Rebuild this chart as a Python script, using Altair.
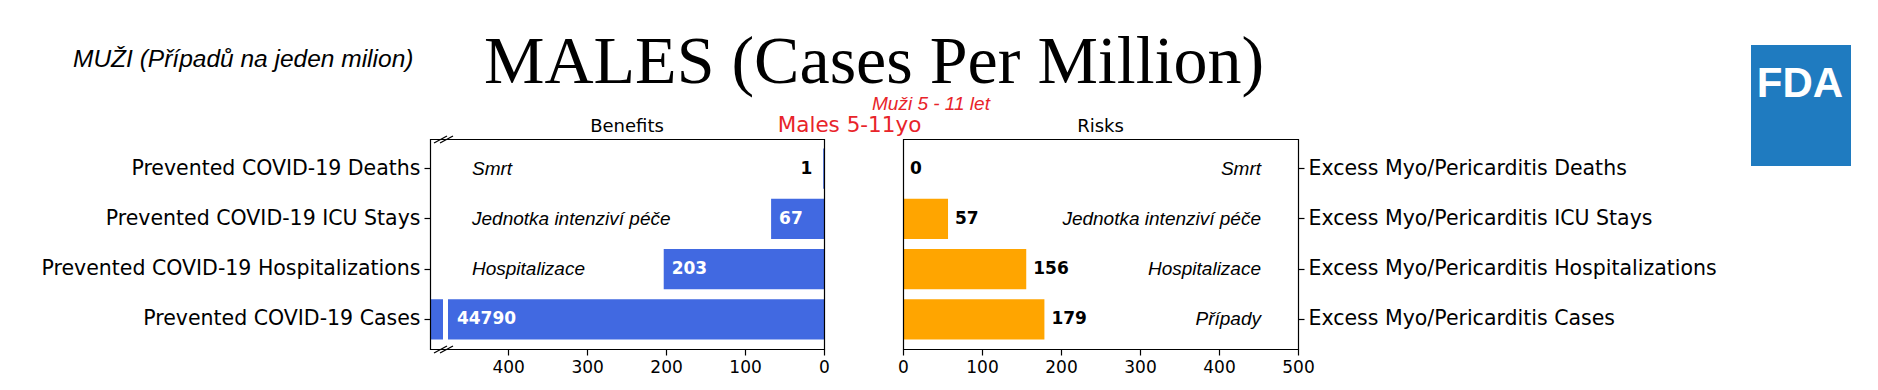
import altair as alt
import pandas as pd

# ---------------- data ----------------
rows = ["Deaths", "ICU Stays", "Hospitalizations", "Cases"]
benefits = [1, 67, 203, 44790]
risks = [0, 57, 156, 179]
czech_benefits = ["Smrt", "Jednotka intenziví péče", "Hospitalizace", ""]
czech_risks = ["Smrt", "Jednotka intenziví péče", "Hospitalizace", "Případy"]
benefit_prefix = "Prevented COVID-19 "
risk_prefix = "Excess Myo/Pericarditis "
benefit_ticks = [0, 100, 200, 300, 400]
risk_ticks = [0, 100, 200, 300, 400, 500]

title_text = "MALES (Cases Per Million)"
czech_title = "MUŽI (Případů na jeden milion)"
group_en = "Males 5-11yo"
group_cz = "Muži 5 - 11 let"
panel_left = "Benefits"
panel_right = "Risks"
logo_text = "FDA"

df = pd.DataFrame({
    "row": rows, "benefit": benefits, "risk": risks,
    "cz_b": czech_benefits, "cz_r": czech_risks,
})
one = pd.DataFrame({"a": [0]})

# ---------------- layout helpers (page px -> view px) ----------------
W, H = 1862, 341
def px(x):
    return x - 8
def py(y):
    return y - 8

BLUE = "#4169E1"
ORANGE = "#FFA500"
RED = "#e8242a"

def yscale():
    return alt.Scale(domain=rows, range=[py(139), py(349)], paddingInner=0.2, paddingOuter=0.19)
def lscale():
    return alt.Scale(domain=[0, 499], range=[px(824), px(430)], clamp=True, nice=False, zero=True)
def rscale():
    return alt.Scale(domain=[0, 500], range=[px(903), px(1298)], nice=False, zero=True)

base = alt.Chart(df)
deco = alt.Chart(one)

# ---------------- left (benefits) ----------------
lb = base.mark_bar(color=BLUE).encode(
    x=alt.X("benefit:Q", scale=lscale(),
            axis=alt.Axis(orient="bottom", values=benefit_ticks, title=None, format="d",
                          labelFlush=False)),
    y=alt.Y("row:N", sort=rows, scale=yscale(),
            axis=alt.Axis(orient="left", offset=-px(430), title=None, labelLimit=600,
                          labelExpr=f"'{benefit_prefix}' + datum.value")),
)
lgap = deco.mark_rule(color="white", strokeWidth=5).encode(
    x=alt.value(px(445.5)), y=alt.value(py(297)), y2=alt.value(py(342)))
lv = base.transform_calculate(
    pos="datum.benefit < 20 ? 40 : min(datum.benefit, 475)"
).mark_text(align="left", baseline="middle", dx=8, font="DejaVu Sans",
            fontWeight="bold", fontSize=17).encode(
    x=alt.X("pos:Q", scale=lscale(), axis=None),
    y=alt.Y("row:N", sort=rows, scale=yscale(), axis=None),
    text=alt.Text("benefit:Q", format="d"),
    color=alt.condition("datum.benefit < 20", alt.value("black"), alt.value("white")),
)
lc = base.mark_text(align="left", baseline="middle", font="Liberation Sans",
                    fontStyle="italic", fontSize=19, color="black").encode(
    x=alt.value(px(472)),
    y=alt.Y("row:N", sort=rows, scale=yscale(), axis=None),
    text="cz_b:N",
)

# ---------------- right (risks) ----------------
rb = base.mark_bar(color=ORANGE).encode(
    x=alt.X("risk:Q", scale=rscale(),
            axis=alt.Axis(orient="bottom", values=risk_ticks, title=None, format="d",
                          labelFlush=False)),
    y=alt.Y("row:N", sort=rows, scale=yscale(),
            axis=alt.Axis(orient="right", offset=-(W - px(1298)), title=None, labelLimit=600,
                          labelExpr=f"'{risk_prefix}' + datum.value")),
)
rv = base.mark_text(align="left", baseline="middle", dx=7, font="DejaVu Sans",
                    fontWeight="bold", fontSize=17, color="black").encode(
    x=alt.X("risk:Q", scale=rscale(), axis=None),
    y=alt.Y("row:N", sort=rows, scale=yscale(), axis=None),
    text=alt.Text("risk:Q", format="d"),
)
rc = base.mark_text(align="right", baseline="middle", font="Liberation Sans",
                    fontStyle="italic", fontSize=19, color="black").encode(
    x=alt.value(px(1261)),
    y=alt.Y("row:N", sort=rows, scale=yscale(), axis=None),
    text="cz_r:N",
)

# ---------------- frames & break marks ----------------
def frame(x0, x1):
    return deco.mark_rect(fillOpacity=0, stroke="black", strokeWidth=1.2).encode(
        x=alt.value(px(x0) + 0.5), x2=alt.value(px(x1) + 0.5),
        y=alt.value(py(139) + 0.5), y2=alt.value(py(349) + 0.5))

def slash(x0, y0, x1, y1):
    return deco.mark_rule(color="black", strokeWidth=1.3).encode(
        x=alt.value(px(x0)), y=alt.value(py(y0)), x2=alt.value(px(x1)), y2=alt.value(py(y1)))

frames = [
    frame(430, 824), frame(903, 1298),
    slash(434, 143, 447, 136), slash(440, 143, 453, 136),
    slash(434, 353, 447, 346), slash(440, 353, 453, 346),
]

# ---------------- header texts & logo ----------------
def txt(s, x, y, size, font, align="left", color="black", style="normal", weight="normal", baseline="alphabetic"):
    return deco.mark_text(text=s, align=align, baseline=baseline, fontSize=size, font=font,
                          color=color, fontStyle=style, fontWeight=weight).encode(
        x=alt.value(px(x)), y=alt.value(py(y)))

headers = [
    txt(czech_title, 73, 67, 24.5, "Liberation Sans", style="italic"),
    txt(title_text, 484, 83, 68, "Liberation Serif"),
    txt(group_cz, 872, 110, 19, "Liberation Sans", color=RED, style="italic"),
    txt(group_en, 849.5, 132, 21.5, "DejaVu Sans", align="center", color=RED),
    txt(panel_left, 627, 132, 18, "DejaVu Sans", align="center"),
    txt(panel_right, 1100.5, 132, 18, "DejaVu Sans", align="center"),
]
logo = deco.mark_rect(color="#1f7bc0").encode(
    x=alt.value(px(1751)), x2=alt.value(px(1851)),
    y=alt.value(py(45)), y2=alt.value(py(166)))
logo_t = txt(logo_text, 1800, 97, 42, "Liberation Sans", align="center", color="white", weight="bold")

chart = alt.layer(lb, lgap, lv, lc, rb, rv, rc, *frames, *headers, logo, logo_t).resolve_scale(
    x="independent", y="shared"
).resolve_axis(
    x="independent", y="independent"
).properties(
    width=W, height=H,
    autosize=alt.AutoSizeParams(type="none"),
    padding={"left": 0, "top": 0, "right": 0, "bottom": 33},
).configure_view(
    strokeWidth=0
).configure_axis(
    grid=False, domain=False, labelColor="black", tickColor="black",
    labelFont="DejaVu Sans", tickSize=6, tickWidth=1.2,
).configure_axisX(
    labelFontSize=17, labelPadding=4,
).configure_axisY(
    labelFontSize=20.5, labelPadding=4,
)

chart.save("out.html", embed_options={"renderer": "svg", "actions": False})
